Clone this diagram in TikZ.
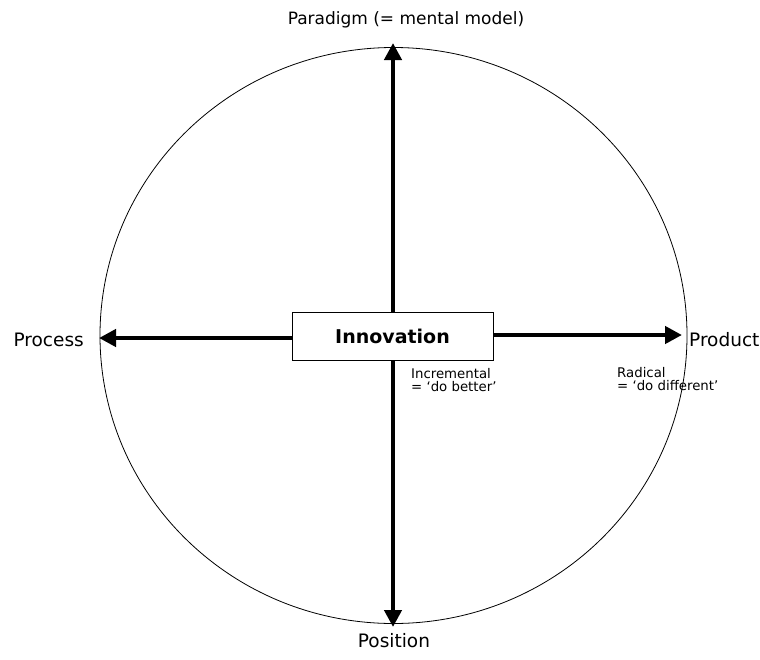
\documentclass[tikz,border=0pt]{standalone}
\usepackage{fontspec}
\setmainfont{DejaVu Sans}
\usetikzlibrary{arrows.meta}
\begin{document}
\begin{tikzpicture}[x=1pt,y=-1pt,
  axis/.style={line width=4.5pt,-{Triangle[length=17pt,width=17pt]}},
  ring/.style={draw,line width=0.8pt},
  core/.style={draw,line width=0.8pt,fill=white,minimum width=201pt,minimum height=48pt,inner sep=0pt,font=\bfseries\fontsize{19}{22}\selectfont},
  pole/.style={font=\fontsize{18.5}{21}\selectfont,inner sep=0pt},
  note/.style={font=\fontsize{13.3}{13}\selectfont,inner sep=0pt,align=left,anchor=north west}]
\useasboundingbox (0,0) rectangle (760,659);
% outer ring
\draw[ring] (393.5,335.5) ellipse [x radius=293.5pt,y radius=288pt];
% central box and axis ends
\node[core] (inn) at (392.5,336) {Innovation};
\coordinate (top) at (393,43);
\coordinate (bot) at (393,627);
\coordinate (lft) at (99,338);
\coordinate (rgt) at (682,335);
% axes
\draw[axis] (inn.north -| top) -- (top);
\draw[axis] (inn.south -| bot) -- (bot);
\draw[axis] (inn.west |- lft) -- (lft);
\draw[axis] (inn.east |- rgt) -- (rgt);
% pole labels
\node[pole,font=\fontsize{17}{20}\selectfont] (par) at (406,20) {Paradigm (= mental model)};
\node[pole] (pos) at (394,641) {Position};
\node[pole,anchor=east] (pro) at (84,340) {Process};
\node[pole,anchor=west] (prd) at (689,340) {Product};
% notes
\node[note] (inc) at (411,368) {Incremental\\= ‘do better’};
\node[note] (rad) at (617,367) {Radical\\= ‘do different’};
\end{tikzpicture}
\end{document}
